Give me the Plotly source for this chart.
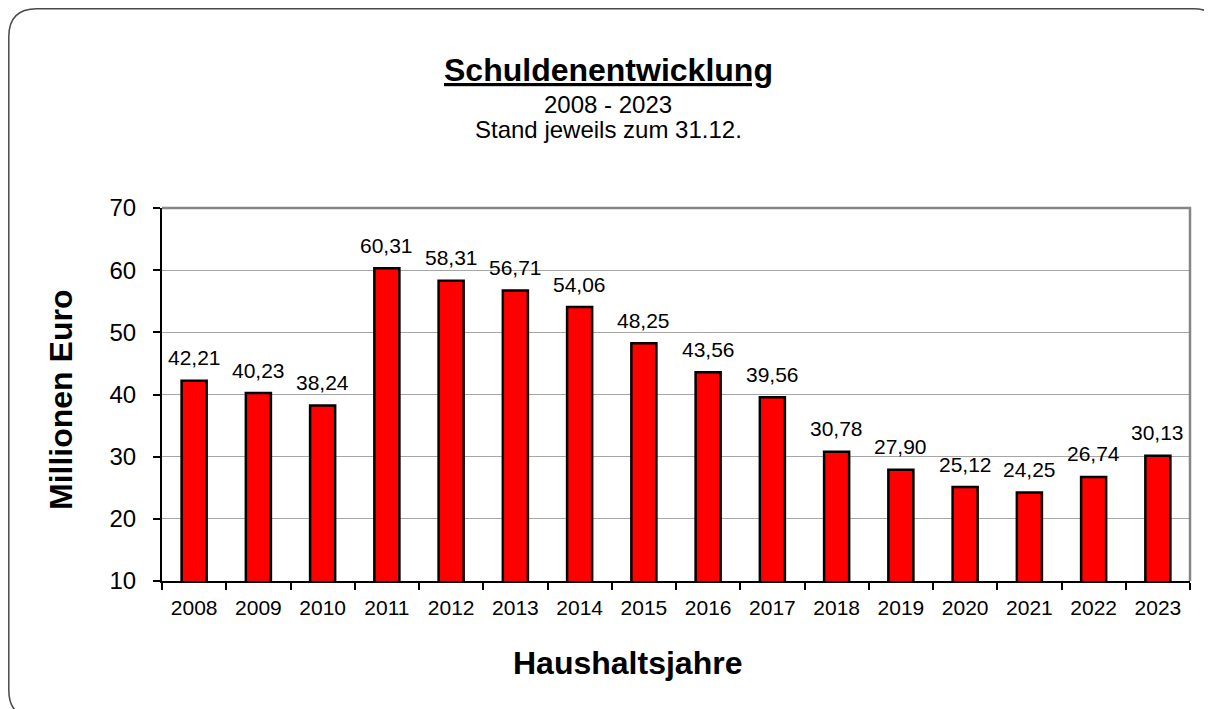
import plotly.graph_objects as go

# Haushaltsjahre und Schuldenstand (Mio. Euro), jeweils zum 31.12.
years = ["2008", "2009", "2010", "2011", "2012", "2013", "2014", "2015",
         "2016", "2017", "2018", "2019", "2020", "2021", "2022", "2023"]
debt = [42.21, 40.23, 38.24, 60.31, 58.31, 56.71, 54.06, 48.25,
        43.56, 39.56, 30.78, 27.90, 25.12, 24.25, 26.74, 30.13]
y_ticks = [10, 20, 30, 40, 50, 60, 70]

FONT = "Liberation Sans, Arial, sans-serif"

# page has an 8px body margin, so the figure is drawn 8px smaller
PAGE_OFF = 8
W, H = 1204, 701
L, R, T, B = 154, 22, 200, 128
PW, PH = W - L - R, H - T - B


# page pixel -> paper helpers (for frame and titles only)
def px(x):
    return (x - PAGE_OFF - L) / PW


def py(y):
    return (H - B - (y - PAGE_OFF)) / PH


fig = go.Figure()
fig.add_trace(go.Bar(
    x=years, y=debt, width=0.39,
    marker=dict(color="#FF0000", line=dict(color="black", width=2.5)),
    hoverinfo="x+y",
))

# data labels, German decimal comma (x as category index)
for i, v in enumerate(debt):
    fig.add_annotation(x=i, y=v, text=f"{v:.2f}".replace(".", ","),
                       showarrow=False, yanchor="middle", yshift=23,
                       font=dict(family=FONT, size=21, color="black"))


def label(x, y, text, size, angle=0):
    fig.add_annotation(xref="paper", yref="paper", x=px(x), y=py(y),
                       xanchor="center", yanchor="middle", text=text,
                       textangle=angle, showarrow=False,
                       font=dict(family=FONT, size=size, color="black"))


label(608, 70, "<b><u>Schuldenentwicklung</u></b>", 32)
label(608, 104.5, "2008 - 2023", 24)
label(608, 129.5, "Stand jeweils zum 31.12.", 24)
label(61, 400, "<b>Millionen Euro</b>", 32, angle=-90)
label(627, 663, "<b>Haushaltsjahre</b>", 32)

# rounded outer frame
x0, y0, x1, y1, r = 8.8, 8.8, 1221, 718, 28
pts = [("M", x0 + r, y0), ("L", x1 - r, y0), ("Q", x1, y0, x1, y0 + r),
       ("L", x1, y1 - r), ("Q", x1, y1, x1 - r, y1), ("L", x0 + r, y1),
       ("Q", x0, y1, x0, y1 - r), ("L", x0, y0 + r), ("Q", x0, y0, x0 + r, y0)]
path = ""
for p in pts:
    cmd, coords = p[0], p[1:]
    xy = [f"{px(coords[i])},{py(coords[i + 1])}" for i in range(0, len(coords), 2)]
    path += cmd + " " + " ".join(xy) + " "
path += "Z"
fig.add_shape(type="path", path=path, xref="paper", yref="paper",
              line=dict(color="#4a4a4a", width=1.5))

# grey plot-area border, top and right
fig.add_shape(type="path", path="M 0,1 L 1,1 L 1,0", xref="paper", yref="paper",
              line=dict(color="#868686", width=2.5), layer="above")

fig.update_xaxes(type="category", range=[-0.5, len(years) - 0.5],
                 showgrid=False, showline=True,
                 linecolor="black", linewidth=2, ticks="outside",
                 tickson="boundaries", ticklen=7, tickwidth=1.5, tickcolor="black",
                 tickangle=0, automargin=False, ticklabelstandoff=7,
                 tickfont=dict(family=FONT, size=21, color="black"))
fig.update_yaxes(range=[10, 70], tickvals=y_ticks, showgrid=True,
                 gridcolor="#A6A6A6", gridwidth=1.2, zeroline=False,
                 showline=True, linecolor="black", linewidth=2,
                 ticks="outside", ticklen=7, tickwidth=1.5, tickcolor="black",
                 automargin=False, ticklabelstandoff=12,
                 tickfont=dict(family=FONT, size=24, color="black"))

fig.update_layout(
    width=W, height=H,
    margin=dict(l=L, r=R, t=T, b=B),
    paper_bgcolor="white", plot_bgcolor="white",
    showlegend=False,
    font=dict(family=FONT, color="black"),
)

fig.write_html("out.html")
